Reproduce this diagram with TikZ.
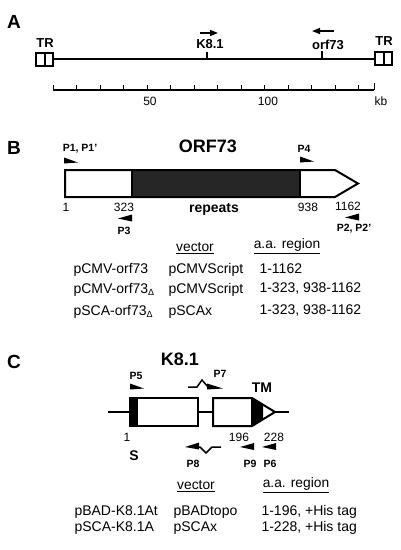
\documentclass[tikz,border=0pt]{standalone}
\usepackage{fontspec}
\setmainfont{Liberation Sans}
\usetikzlibrary{arrows.meta}

\tikzset{
  panel/.style={font=\fontsize{19}{19}\selectfont\bfseries},
  title/.style={font=\fontsize{18}{18}\selectfont\bfseries},
  gene/.style={font=\fontsize{13}{13}\selectfont\bfseries},
  plabel/.style={font=\fontsize{10.5}{10.5}\selectfont\bfseries},
  num/.style={font=\fontsize{12}{12}\selectfont},
  row/.style={font=\fontsize{14}{14}\selectfont, anchor=west},
  head/.style={font=\fontsize{13.8}{14}\selectfont},
  primer/.style={fill=black},
}

\begin{document}
\begin{tikzpicture}[x=1pt, y=-1pt, line join=miter]
    \useasboundingbox (0,0) rectangle (400,550);

    % --- A: genome map
    \node[panel] (A) at (14,22) {A};
    \draw[line width=2.5pt] (53,59) -- (375,59);
    \draw[line width=2pt, fill=white] (36,53) rectangle (53,66);
    \draw[line width=1.4pt] (45,53) -- (45,66);
    \draw[line width=2pt, fill=white] (375,52) rectangle (392,65);
    \draw[line width=1.4pt] (384,52) -- (384,65);
    \node[gene] (trl) at (45,43) {TR};
    \node[gene] (trr) at (384,41) {TR};
    \draw[line width=1.2pt] (207,52) -- (207,59);
    \draw[line width=1.2pt] (322,51) -- (322,59);
    \node[gene] (k81) at (210,44) {K8.1};
    \node[gene] (orf) at (328,45) {orf73};
    \draw[line width=1.5pt, -{Triangle[length=8pt,width=6pt]}] (200,33) -- (218,33);
    \draw[line width=1.5pt, -{Triangle[length=8pt,width=6pt]}] (334,31) -- (312,31);

    % scale bar
    \draw[line width=1.4pt] (53,90) -- (374,90);
    \foreach \i in {0,...,13}
    \draw[line width=1pt] (53+\i*23.5, 90) -- (53+\i*23.5, 85);
    \draw[line width=1pt] (374,90) -- (374,83);
    \node[num] (s50) at (150,101) {50};
    \node[num] (s100) at (268,101) {100};
    \node[num] (kb) at (381,101) {kb};

    % --- B: ORF73
    \node[panel] (B) at (14,148) {B};
    \node[title] (orf73) at (208,146) {ORF73};
    \node[plabel] (p1) at (80,149) {P1, P1'};
    \fill[primer] (64,157.5) -- (78,162.5) -- (64,163.5) -- cycle;
    \node[plabel] (p4) at (304,149) {P4};
    \fill[primer] (300,156.5) -- (314,161.5) -- (300,162.5) -- cycle;
    \fill[black!85] (132,170) rectangle (300,197);
    \draw[line width=2pt] (65,170) -- (335,170) -- (358,183.5) -- (335,197) -- (65,197) -- cycle;
    \draw[line width=1.4pt] (132,170) -- (132,197);
    \draw[line width=1.4pt] (300,170) -- (300,197);
    \node[num] (b1) at (66,207) {1};
    \node[num] (b323) at (124,207) {323};
    \node[gene, font=\fontsize{14}{14}\selectfont\bfseries] (rep) at (214,209) {repeats};
    \node[num] (b938) at (308,207) {938};
    \node[num] (b1162) at (348,206) {1162};
    \fill[primer] (118,218.5) -- (132,214.5) -- (132,221.5) -- cycle;
    \node[plabel] (p3) at (124,231) {P3};
    \fill[primer] (345,217.5) -- (359,213.5) -- (359,220.5) -- cycle;
    \node[plabel] (p2) at (354,229) {P2, P2'};

    \node[head] (vb) at (195,248) {\underline{vector}};
    \node[head] (ab) at (287,246) {\underline{a.a. region}};
    \node[row] (r1a) at (70,270) {pCMV-orf73};
    \node[row] (r1b) at (165,270) {pCMVScript};
    \node[row] (r1c) at (256,269) {1-1162};
    \node[row] (r2a) at (70,290) {pCMV-orf73\raisebox{-1.5pt}{\fontsize{9}{9}\selectfont Δ}};
    \node[row] (r2b) at (165,290) {pCMVScript};
    \node[row] (r2c) at (256,289) {1-323, 938-1162};
    \node[row] (r3a) at (70,312) {pSCA-orf73\raisebox{-1.5pt}{\fontsize{9}{9}\selectfont Δ}};
    \node[row] (r3b) at (165,312) {pSCAx};
    \node[row] (r3c) at (256,311) {1-323, 938-1162};

    % --- C: K8.1
    \node[panel] (C) at (14,362) {C};
    \node[title] (k81t) at (180,359) {K8.1};
    \node[plabel] (p5) at (136,376) {P5};
    \fill[primer] (130,383.5) -- (144,388.5) -- (130,389.5) -- cycle;
    \node[plabel] (p7) at (220,374) {P7};
    \draw[line width=1.5pt] (188,387) -- (197,387) -- (202,380) -- (208,387);
    \fill[primer] (207,383.5) -- (223,388.5) -- (207,389.5) -- cycle;
    \node[gene, font=\fontsize{14}{14}\selectfont\bfseries] (tm) at (262,388) {TM};

    \draw[line width=2pt] (108,412) -- (130,412);
    \draw[line width=2pt] (198,412) -- (213,412);
    \draw[line width=2pt] (275,412) -- (289,412);
    \fill (130,398) rectangle (138,426);
    \draw[line width=2pt] (130,398) rectangle (198,426);
    \fill (252,398) -- (263,404.5) -- (263,419.5) -- (252,426) -- cycle;
    \draw[line width=2pt] (213,398) -- (252,398) -- (275,412) -- (252,426) -- (213,426) -- cycle;
    \draw[line width=1.4pt] (252,398) -- (252,426);

    \node[num] (c1) at (127,437) {1};
    \node[num] (c196) at (239,437) {196};
    \node[num] (c228) at (274,437) {228};
    \node[gene, font=\fontsize{14}{14}\selectfont\bfseries] (sp) at (134,456) {S};
    \fill[primer] (185,447) -- (199,442.5) -- (199,449.5) -- cycle;
    \draw[line width=1.5pt] (196,447) -- (200,447) -- (206,453) -- (212,447) -- (221,447);
    \node[plabel] (p8) at (193,464) {P8};
    \fill[primer] (240,447) -- (254,443) -- (254,450) -- cycle;
    \node[plabel] (p9) at (250,464) {P9};
    \fill[primer] (262,447) -- (276,443) -- (276,450) -- cycle;
    \node[plabel] (p6) at (270,464) {P6};

    \node[head] (vc) at (196,486) {\underline{vector}};
    \node[head] (ac) at (296,485) {\underline{a.a. region}};
    \node[row] (s1a) at (71,512) {pBAD-K8.1At};
    \node[row] (s1b) at (170,512) {pBADtopo};
    \node[row] (s1c) at (258,512) {1-196, +His tag};
    \node[row] (s2a) at (71,528) {pSCA-K8.1A};
    \node[row] (s2b) at (170,528) {pSCAx};
    \node[row] (s2c) at (258,528) {1-228, +His tag};
\end{tikzpicture}
\end{document}
